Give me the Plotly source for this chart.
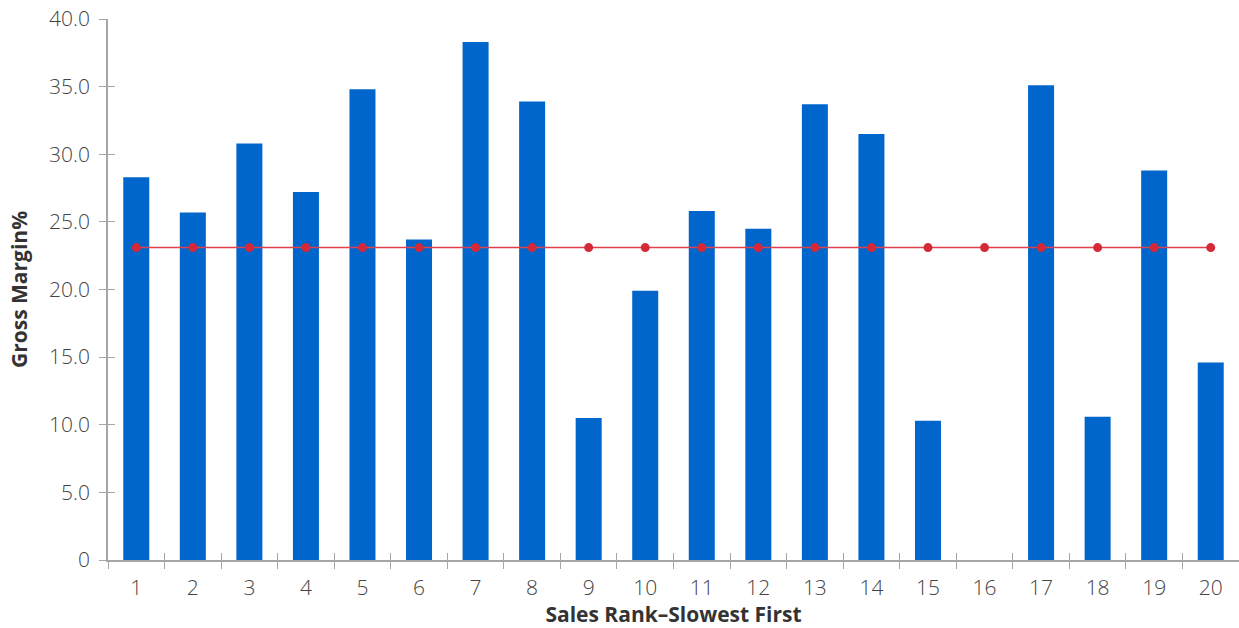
import plotly.graph_objects as go

categories = [str(i) for i in range(1, 21)]
gross_margin = [28.3, 25.7, 30.8, 27.2, 34.8, 23.7, 38.3, 33.9, 10.5, 19.9,
                25.8, 24.5, 33.7, 31.5, 10.3, 0, 35.1, 10.6, 28.8, 14.6]
average_margin = [23.1] * 20
y_tickvals = [0, 5, 10, 15, 20, 25, 30, 35, 40]
y_ticktext = ["0", "5.0", "10.0", "15.0", "20.0", "25.0", "30.0", "35.0", "40.0"]

AX = "#a6a6a6"
TICKFONT = dict(family="Open Sans", size=21, color="#444444", weight=300)
TITLEFONT = dict(family="Open Sans", size=21, color="#333333", weight="bold")

fig = go.Figure()
fig.add_trace(go.Bar(x=categories, y=gross_margin, marker_color="#0066CC",
                     marker_line_width=0, width=0.46, name="Gross Margin%"))
fig.add_trace(go.Scatter(x=categories, y=average_margin, mode="lines+markers",
                         line=dict(color="#e0404c", width=1.5),
                         marker=dict(color="#d42a38", size=9),
                         name="Average", xaxis="x2", yaxis="y2"))

fig.update_layout(
    width=1239, height=628,
    margin=dict(l=108, r=0, t=19, b=68),
    plot_bgcolor="white", paper_bgcolor="white",
    showlegend=False,
    xaxis=dict(type="category", categoryorder="array", categoryarray=categories,
               range=[-0.5, 19.5], tickson="boundaries", ticks="outside",
               ticklen=7, tickcolor=AX, tickwidth=1, showline=True, linecolor=AX,
               linewidth=1.5, showgrid=False, zeroline=False, tickfont=TICKFONT,
               ticklabelstandoff=8,
               title=dict(text="Sales Rank\u2013Slowest First", font=TITLEFONT, standoff=13)),
    yaxis=dict(range=[0, 40], tickvals=y_tickvals, ticktext=y_ticktext,
               ticks="outside", ticklen=7, tickcolor=AX, tickwidth=1,
               showline=True, linecolor=AX, linewidth=1.5, showgrid=False,
               zeroline=False, tickfont=TICKFONT, ticklabelstandoff=5,
               title=dict(text="Gross Margin%", font=TITLEFONT, standoff=16)),
    xaxis2=dict(type="category", categoryorder="array", categoryarray=categories,
                range=[-0.5, 19.5], overlaying="x", tickson="boundaries",
                ticks="inside", ticklen=7, tickcolor=AX, tickwidth=1,
                showticklabels=False, showgrid=False, zeroline=False, showline=False),
    yaxis2=dict(range=[0, 40], tickvals=y_tickvals, overlaying="y",
                ticks="inside", ticklen=7, tickcolor=AX, tickwidth=1,
                showticklabels=False, showgrid=False, zeroline=False, showline=False),
)

fig.write_html("out.html")
